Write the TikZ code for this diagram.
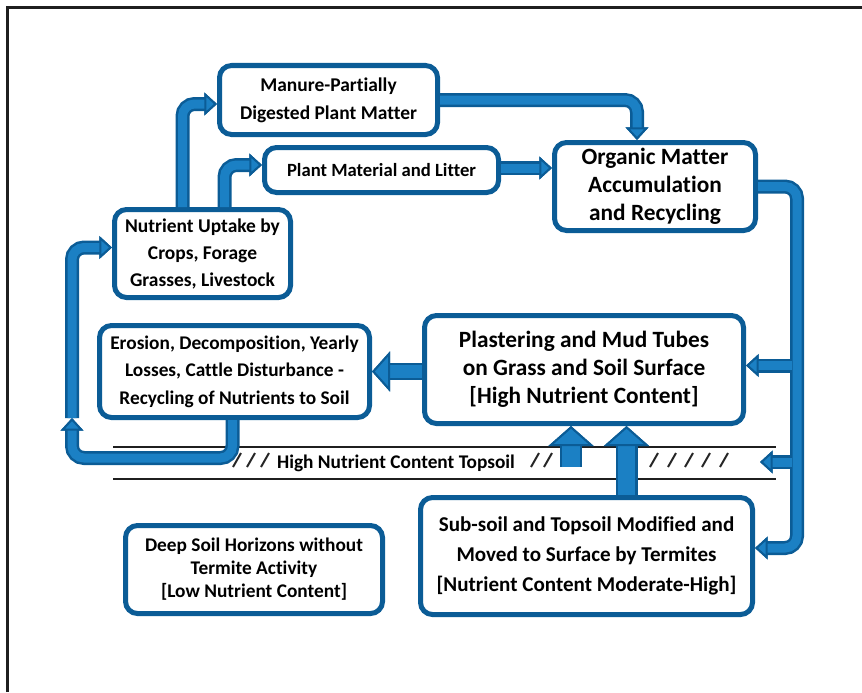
\documentclass[tikz,border=0pt]{standalone}
\usepackage{fontspec}
\setmainfont{Carlito}[Ligatures=NoCommon]
\usepackage{tikz}
\usetikzlibrary{calc,arrows.meta}
\definecolor{boxblue}{HTML}{0B5C96}
\definecolor{pipeblue}{HTML}{1B80C4}

\begin{document}
\begin{tikzpicture}[x=0.75pt, y=-0.75pt,
  box/.style={draw=boxblue, line width=3.75pt, rounded corners=9pt, fill=white, align=center, inner sep=0pt},
  pipe/.style={draw=pipeblue, line width=6.75pt, rounded corners=9pt,
    preaction={draw=boxblue, line width=10.5pt},
    -{Triangle[width=17pt, length=9.5pt, line width'=1.5pt, fill=pipeblue, color=boxblue]}},
  bigpipe/.style={draw=pipeblue, line width=9.5pt,
    preaction={draw=boxblue, line width=12.75pt},
    -{Triangle[width=30pt, length=13.5pt, line width'=1.5pt, fill=pipeblue, color=boxblue]}},
  uppipe/.style={draw=pipeblue, line width=13pt,
    preaction={draw=boxblue, line width=16.5pt},
    -{Triangle[width=33.75pt, length=15pt, line width'=1.5pt, fill=pipeblue, color=boxblue]}},
  hatch/.style={line width=1.5pt, black!85}]
\useasboundingbox (0, 0) rectangle (862, 692);
\draw [line width=2.25pt, black!88] (7.5, 692) -- (7.5, 7.5) -- (862, 7.5);

\node [box, minimum width=163.5pt, minimum height=51.75pt, font=\bfseries\fontsize{14.6}{21}\selectfont] (manure) at (328.5, 100) {Manure-Partially\\Digested Plant Matter};
\node [box, minimum width=175.5pt, minimum height=33.75pt, font=\bfseries\fontsize{14}{18}\selectfont] (litter) at (381.5, 170) {Plant Material and Litter};
\node [box, minimum width=150.75pt, minimum height=66pt, font=\bfseries\fontsize{17.5}{21}\selectfont] (organic) at (655, 186.5) {Organic Matter\\Accumulation\\and Recycling};
\node [box, minimum width=132pt, minimum height=66pt, font=\bfseries\fontsize{14.6}{20.25}\selectfont] (uptake) at (202.5, 253.5) {Nutrient Uptake by\\Crops, Forage\\Grasses, Livestock};
\node [box, minimum width=202.5pt, minimum height=69pt, font=\bfseries\fontsize{14.5}{20.6}\selectfont] (erosion) at (234.5, 371.5) {Erosion, Decomposition, Yearly\\Losses, Cattle Disturbance -\\Recycling of Nutrients to Soil};
\node [box, minimum width=239.25pt, minimum height=81pt, font=\bfseries\fontsize{17.5}{21}\selectfont] (plaster) at (584, 369.5) {Plastering and Mud Tubes\\on Grass and Soil Surface\\{[High Nutrient Content]}};
\node [box, minimum width=249pt, minimum height=87.75pt, font=\bfseries\fontsize{15.8}{22.5}\selectfont] (subsoil) at (586.5, 556) {Sub-soil and Topsoil Modified and\\Moved to Surface by Termites\\{[Nutrient Content Moderate-High]}};
\node [box, minimum width=192.75pt, minimum height=66pt, font=\bfseries\fontsize{14.5}{17.25}\selectfont] (deep) at (254, 569.5) {Deep Soil Horizons without\\Termite Activity\\{[Low Nutrient Content]}};

\draw [line width=1.5pt, black!88] (113, 447) -- (776, 447);
\draw [line width=1.5pt, black!88] (113, 479) -- (776, 479);
\node [font=\bfseries\fontsize{14.5}{16}\selectfont, inner sep=0pt] (topsoil) at (396, 463) {High Nutrient Content Topsoil};
\foreach \hx in {233, 247, 261, 531, 544, 650, 668, 685, 702, 720}
  \draw [hatch] (\hx, 467) -- ++(8, -14);

\coordinate (rt) at ($(organic.east)+(39, 0)$);
\coordinate (gap) at (760, 462);
\coordinate (soilup) at (571, 467);
\coordinate (loopend) at (72, 418);

\draw [pipe] ($(uptake.north)+(-20, 0)$) |- ($(manure.west)+(0, 4)$);
\draw [pipe] ($(uptake.north)+(22, 0)$) |- ($(litter.west)+(0, -5)$);
\draw [pipe] ($(litter.east)+(0, -2)$) -- ($(litter.east -| organic.west)+(0, -2)$);
\draw [pipe] (manure.east) -| ($(organic.north)+(-18, 0)$);
\draw [pipe] (organic.east) -| (rt |- plaster.north) |- ($(subsoil.east)+(0, -8)$);
\draw [pipe] ($(rt |- plaster.east)+(-5, -4)$) -- ($(plaster.east)+(0, -4)$);
\draw [pipe] ($(rt |- gap)+(-5, 0)$) -- (gap);
\draw [pipe] ($(erosion.south)+(-2, 0)$) -- ++(0, 38) -| (loopend);
\draw [pipe] (loopend) |- ($(uptake.west)+(0, -6)$);
\draw [bigpipe] (plaster.west |- erosion.east) -- (erosion.east);
\draw [uppipe] (soilup) -- (soilup |- plaster.south);
\draw [uppipe] ($(subsoil.north)+(40, 0)$) coordinate (s2) -- (s2 |- plaster.south);
\end{tikzpicture}
\end{document}
